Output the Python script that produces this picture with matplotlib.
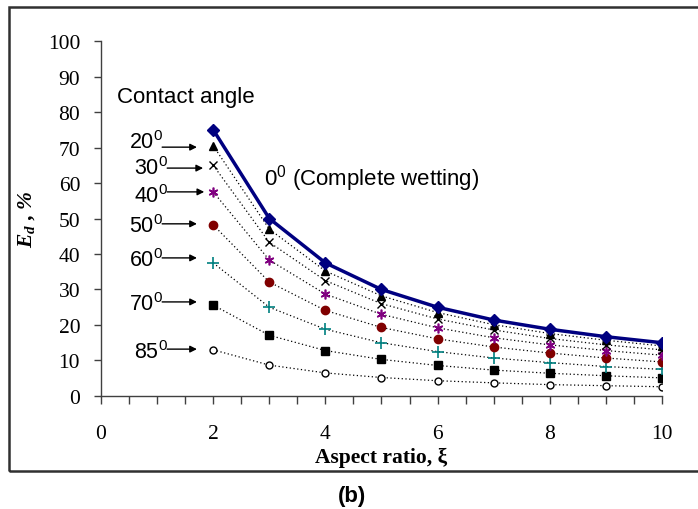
import numpy as np
import matplotlib
matplotlib.use("Agg")
import matplotlib.pyplot as plt
from matplotlib.patches import Rectangle

plt.rcParams["mathtext.default"] = "regular"

# aspect ratio and drainage efficiency
xi = [2, 3, 4, 5, 6, 7, 8, 9, 10]
ed_0 = [75.0, 50.0, 37.5, 30.0, 25.0, 21.4, 18.8, 16.7, 15.0]
ed_20 = [70.5, 47.0, 35.2, 28.2, 23.5, 20.1, 17.6, 15.7, 14.1]
ed_30 = [65.0, 43.3, 32.5, 26.0, 21.7, 18.6, 16.2, 14.4, 13.0]
ed_40 = [57.5, 38.3, 28.7, 23.0, 19.2, 16.4, 14.4, 12.8, 11.5]
ed_50 = [48.2, 32.1, 24.1, 19.3, 16.1, 13.8, 12.1, 10.7, 9.6]
ed_60 = [37.5, 25.0, 18.8, 15.0, 12.5, 10.7, 9.4, 8.3, 7.5]
ed_70 = [25.6, 17.1, 12.8, 10.3, 8.6, 7.3, 6.4, 5.7, 5.1]
ed_85 = [13.0, 8.7, 6.5, 5.2, 4.3, 3.7, 3.2, 2.9, 2.6]

angle_labels = ["20", "30", "40", "50", "60", "70", "85"]

fig = plt.figure(figsize=(6.98, 5.10), dpi=100)
ax = fig.add_axes([0.1447, 0.2216, 0.8037, 0.696])

dot = (0, (1.0, 2.0))
ax.plot(xi, ed_85, color="black", lw=0.9, ls=dot, marker="o", ms=5,
        mfc="white", mec="black", mew=1)
ax.plot(xi, ed_70, color="black", lw=0.9, ls=dot, marker="s", ms=5.5,
        mfc="black", mec="black")
ax.plot(xi, ed_60, color="black", lw=0.9, ls=dot, marker="+", ms=8,
        mec="#008080", mew=1.2)
ax.plot(xi, ed_50, color="black", lw=0.9, ls=dot, marker="o", ms=6,
        mfc="#800000", mec="#800000")
ax.plot(xi, ed_40, color="black", lw=0.9, ls=dot, marker=(6, 2, 0), ms=7,
        mec="#800080", mew=1.2)
ax.plot(xi, ed_30, color="black", lw=0.9, ls=dot, marker="x", ms=5.5,
        mec="black", mew=1)
ax.plot(xi, ed_20, color="black", lw=0.9, ls=dot, marker="^", ms=5.5,
        mfc="black", mec="black")
ax.plot(xi, ed_0, color="#000080", lw=2.5, marker="D", ms=6,
        mfc="#000080", mec="#000080")

ax.set_xlim(0, 10)
ax.set_ylim(0, 100)
ax.set_xticks(np.arange(0, 11, 2))
ax.set_xticks(np.arange(0, 10.01, 0.5), minor=True)
ax.set_yticks(np.arange(0, 101, 10))
for s in ["top", "right"]:
    ax.spines[s].set_visible(False)
for s in ["left", "bottom"]:
    ax.spines[s].set_color("#404040")
    ax.spines[s].set_linewidth(1)
ax.tick_params(axis="x", which="both", direction="out", length=6, width=1,
               color="#404040", pad=14)
ax.tick_params(axis="y", direction="out", length=5, width=1,
               color="#404040", pad=10)
for lab in ax.get_xticklabels() + ax.get_yticklabels():
    lab.set_fontfamily("Liberation Serif")
    lab.set_fontsize(15.5)

ax.set_xlabel("Aspect ratio, ξ", fontfamily="Liberation Serif",
              fontweight="bold", fontsize=15.5, labelpad=3)
ax.set_ylabel("E$_d$ , %", fontfamily="Liberation Serif", fontweight="bold",
              fontstyle="italic", fontsize=15.5, labelpad=8)

# contact angle labels with arrows
arr_y = [70.1, 64.2, 57.5, 48.5, 38.9, 26.5, 13.2]
txt_y = [71.7, 64.3, 56.6, 47.9, 38.3, 25.9, 12.6]
arr_x0 = [1.09, 1.18, 1.18, 1.09, 1.09, 1.09, 1.18]
arr_x1 = [1.71, 1.82, 1.84, 1.71, 1.71, 1.71, 1.71]
for lab, ya, yt, x0, x1 in zip(angle_labels, arr_y, txt_y, arr_x0, arr_x1):
    ax.annotate("", xy=(x1, ya), xytext=(x0, ya),
                arrowprops=dict(arrowstyle="-|>", color="black", lw=1,
                                mutation_scale=10, shrinkA=0, shrinkB=0))
    ax.text(x0 + 0.02, yt, lab + "$^0$", ha="right", va="center",
            fontfamily="Liberation Sans", fontsize=15.5)

ax.text(0.29, 84.5, "Contact angle", ha="left", va="center",
        fontfamily="Liberation Sans", fontsize=16)
ax.text(2.9, 61.5, "0$^0$ (Complete wetting)", ha="left", va="center",
        fontfamily="Liberation Sans", fontsize=16)

fig.text(352 / 698, 1 - 497 / 510, "(b)", ha="center", va="center",
         fontfamily="Liberation Sans", fontweight="bold", fontsize=16)

frame = Rectangle((9 / 698, 1 - 472 / 510), 1.0, (472 - 8) / 510,
                  transform=fig.transFigure, fill=False, lw=1.8,
                  edgecolor="#303030", clip_on=False)
fig.patches.append(frame)

fig.savefig("out.png", dpi=100)
